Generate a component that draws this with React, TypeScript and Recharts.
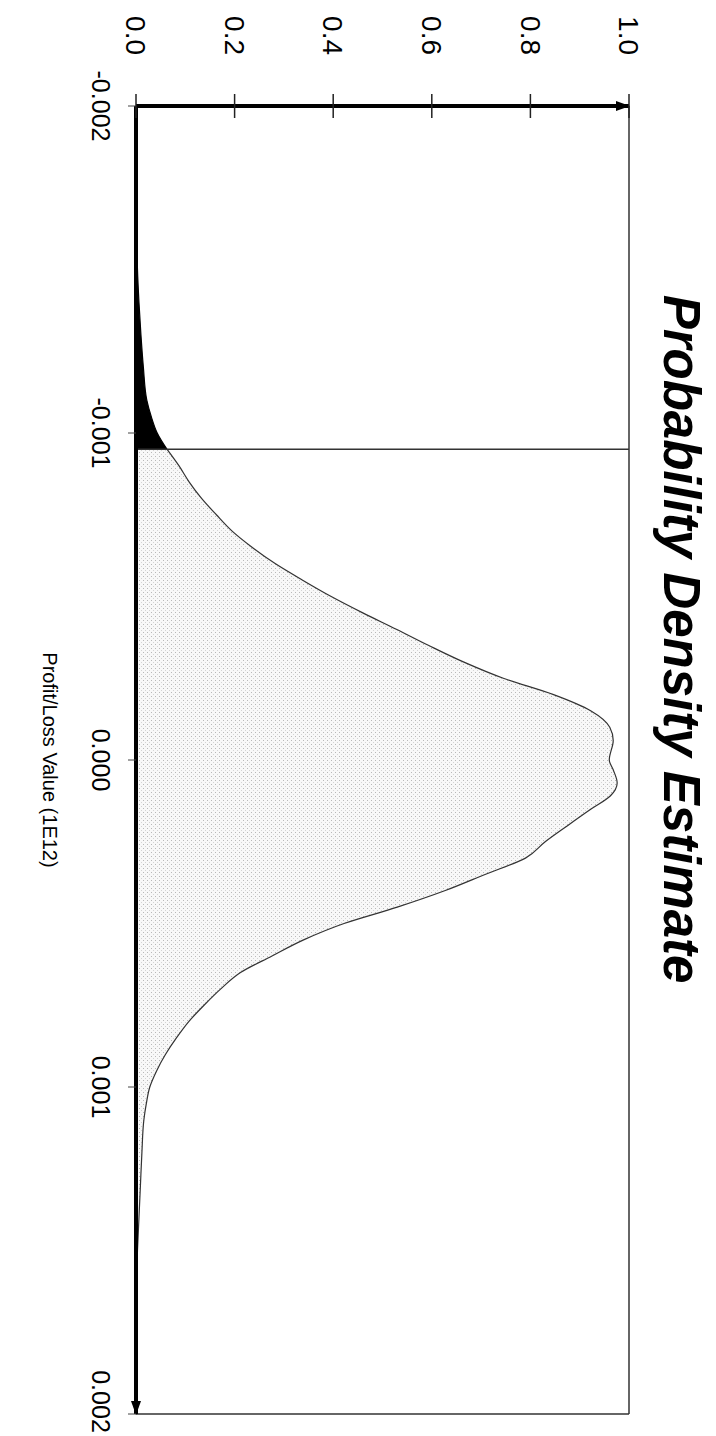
import React from 'react';
import { AreaChart, Area, XAxis, YAxis, ReferenceLine } from 'recharts';

// profit/loss values (1E12) and the estimated density at each one
const profitLoss = [
  -0.002, -0.0019, -0.0018, -0.0017, -0.0016, -0.0015, -0.0014, -0.0013, -0.0012, -0.0011,
  -0.00105, -0.001, -0.00095, -0.0009, -0.00085, -0.0008, -0.00075, -0.0007, -0.00065, -0.0006,
  -0.00055, -0.0005, -0.00045, -0.0004, -0.00035, -0.0003, -0.00025, -0.0002, -0.00015, -0.0001,
  -0.00006, 0, 0.00003, 0.00007, 0.00011, 0.00015, 0.0002, 0.00025, 0.0003, 0.00035,
  0.0004, 0.00045, 0.0005, 0.00055, 0.0006, 0.00065, 0.0007, 0.00075, 0.0008, 0.00085,
  0.0009, 0.00095, 0.001, 0.00105, 0.0011, 0.0012, 0.0013, 0.0014, 0.0015, 0.0016,
  0.0017, 0.0018, 0.0019, 0.002,
];
const density = [
  0.0, 0.001, 0.001, 0.002, 0.002, 0.003, 0.006, 0.01, 0.015, 0.022,
  0.031, 0.043, 0.063, 0.087, 0.108, 0.133, 0.163, 0.195, 0.236, 0.283,
  0.338, 0.396, 0.46, 0.528, 0.594, 0.664, 0.745, 0.847, 0.923, 0.961,
  0.968, 0.96, 0.968, 0.976, 0.962, 0.923, 0.876, 0.83, 0.79, 0.708,
  0.626, 0.53, 0.422, 0.34, 0.275, 0.212, 0.172, 0.138, 0.107, 0.082,
  0.06, 0.042, 0.028, 0.021, 0.016, 0.012, 0.009, 0.006, 0.003, 0.001,
  0.001, 0.0, 0.0, 0.0,
];
const cutoff = -0.00095;
const xTicks = [-0.002, -0.001, 0, 0.001, 0.002];
const yTicks = [0, 0.2, 0.4, 0.6, 0.8, 1.0];

const data = profitLoss.map((x, i) => ({
  x,
  tail: x <= cutoff ? density[i] : null,
  body: x >= cutoff ? density[i] : null,
}));

const FONT = '"Liberation Sans", Arial, Helvetica, sans-serif';
const W = 1436;
const H = 716;
const X_FS = 25;
const Y_FS = 28;

// y ticks cross the thick axis line on both sides
const DensityTick = ({ x, y, payload }: any) => (
  <g>
    <line x1={x + 51 - 12} x2={x + 51 + 12} y1={y} y2={y} stroke="#222" strokeWidth={1.5} />
    <text x={x} y={y} dy="0.35em" textAnchor="end" fontSize={Y_FS} fontFamily={FONT} fill="#000">
      {Number(payload.value).toFixed(1)}
    </text>
  </g>
);

// keep the last label inside the page
const ValueTick = ({ x, y, payload }: any) => {
  const label = Number(payload.value).toFixed(3);
  const half = label.length * X_FS * 0.26;
  const cx = Math.min(x, W - 2 - half);
  return (
    <text x={cx} y={y} dy="0.71em" textAnchor="middle" fontSize={X_FS} fontFamily={FONT} fill="#000">
      {label}
    </text>
  );
};

const App: React.FC = () => {
  return (
    <div style={{ position: 'relative', width: 716, height: 1436, overflow: 'hidden', background: '#fff' }}>
      <style>{'body{margin:0}'}</style>
      <div
        style={{
          position: 'absolute',
          top: 0,
          left: 0,
          width: W,
          height: H,
          transformOrigin: '0 0',
          transform: 'translate(716px, 0) rotate(90deg)',
        }}
      >
        <AreaChart width={W} height={H} data={data} margin={{ top: 87, right: 22, bottom: 96, left: 26 }}>
          <defs>
            <marker id="arrowHead" viewBox="0 0 14 10" refX="13" refY="5" markerWidth="14" markerHeight="10"
              markerUnits="userSpaceOnUse" orient="auto-start-reverse">
              <path d="M0,0 L14,5 L0,10 z" fill="#000" />
            </marker>
            <pattern id="stipple" width="4" height="4" patternUnits="userSpaceOnUse">
              <rect width="4" height="4" fill="#f8f8f8" />
              <rect x="0" y="0" width="1" height="1" fill="#b8b8b8" />
              <rect x="2" y="2" width="1" height="1" fill="#d4d4d4" />
            </pattern>
          </defs>
          <XAxis
            dataKey="x"
            type="number"
            domain={[-0.002, 0.002]}
            ticks={xTicks}
            interval={0}
            height={40}
            tickSize={8}
            tickMargin={18}
            tick={<ValueTick />}
            tickLine={{ stroke: '#444', strokeWidth: 1 }}
            axisLine={{ stroke: '#000', strokeWidth: 4, markerEnd: 'url(#arrowHead)' }}
          />
          <YAxis
            type="number"
            domain={[0, 1]}
            ticks={yTicks}
            interval={0}
            width={80}
            tickSize={0}
            tickMargin={51}
            tickLine={false}
            tick={<DensityTick />}
            axisLine={{ stroke: '#000', strokeWidth: 4, markerStart: 'url(#arrowHead)' }}
          />
          <ReferenceLine y={1} stroke="#333" strokeWidth={1.5} />
          <ReferenceLine x={0.002} stroke="#333" strokeWidth={1.5} />
          <Area
            type="monotone"
            dataKey="body"
            fill="url(#stipple)"
            fillOpacity={1}
            stroke="#333"
            strokeWidth={1.2}
            dot={false}
            activeDot={false}
            isAnimationActive={false}
          />
          <Area
            type="monotone"
            dataKey="tail"
            fill="#000"
            fillOpacity={1}
            stroke="#000"
            strokeWidth={1.2}
            dot={false}
            activeDot={false}
            isAnimationActive={false}
          />
          <ReferenceLine x={cutoff} stroke="#333" strokeWidth={1.5} />
        </AreaChart>
        <svg width={W} height={H} style={{ position: 'absolute', top: 0, left: 0, pointerEvents: 'none' }}>
          <text x={639} y={52} textAnchor="middle" fontSize={51} fontWeight="bold" fontStyle="italic" fontFamily={FONT}>
            Probability Density Estimate
          </text>
          <text x={760} y={673} textAnchor="middle" fontSize={20} fontFamily={FONT}>
            Profit/Loss Value (1E12)
          </text>
        </svg>
      </div>
    </div>
  );
};

export default App;
